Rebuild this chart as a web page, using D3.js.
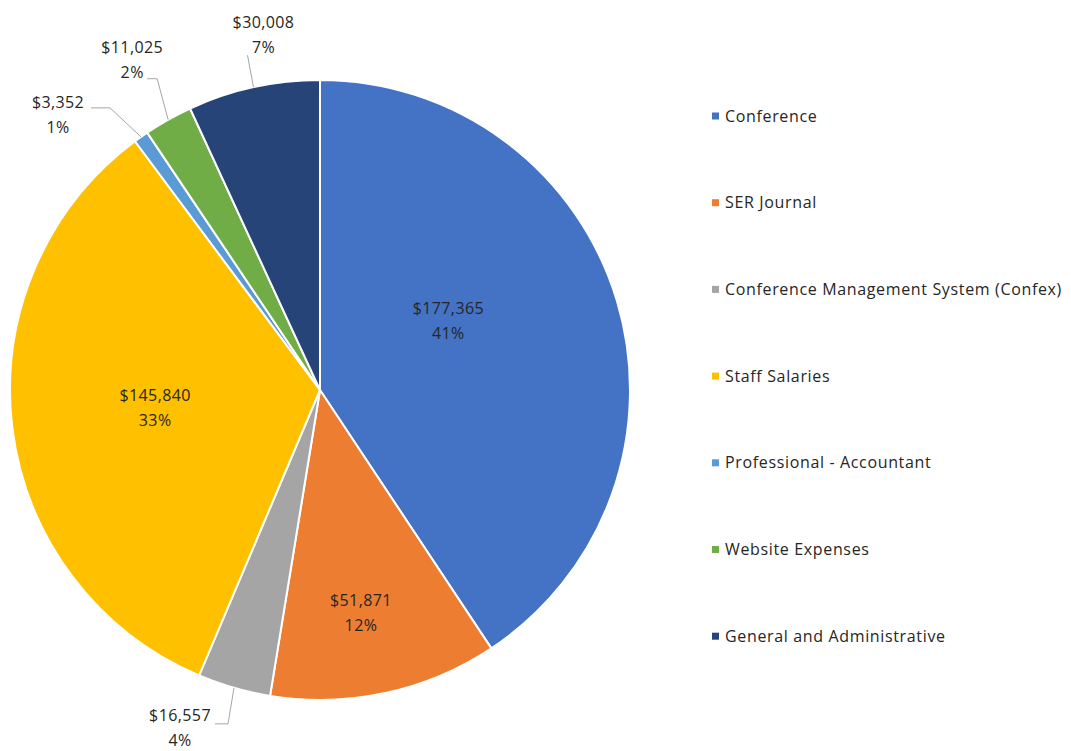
<!DOCTYPE html>
<html lang="en">
<head>
  <meta charset="UTF-8" />
  <title>Expenses</title>
  <style>
    body { margin: 0; background: #fff; font-family: "Open Sans", sans-serif; }
    svg { display: block; }
  </style>
</head>
<body>
  <svg id="chart"></svg>
  <script src="https://d3js.org/d3.v7.min.js"></script>
  <script>
    const categories = [
      "Conference",
      "SER Journal",
      "Conference Management System (Confex)",
      "Staff Salaries",
      "Professional - Accountant",
      "Website Expenses",
      "General and Administrative"
    ];
    const amounts = [177365, 51871, 16557, 145840, 3352, 11025, 30008];
    // percentages as printed on the chart
    const percents = [41, 12, 4, 33, 1, 2, 7];
    const colors = ["#4472C4", "#ED7D31", "#A5A5A5", "#FFC000", "#5B9BD5", "#70AD47", "#264478"];

    const width = 1071, height = 751;
    const cx = 320, cy = 390, radius = 310;

    // label placement: inside labels by polar (angle shift in rad, radius fraction),
    // outside labels by text offset from the slice edge point
    const labelPlacement = [
      { inside: true, da: -0.2, rf: 0.47 },
      { inside: true, da: 0.03, rf: 0.73 },
      { inside: false, tx: -54, ty: 40, elbow: [-6, 36], tail: -13 },
      { inside: true, da: 0.01, rf: 0.535 },
      { inside: false, tx: -83, ty: -22, elbow: [-31, -29], tail: -19 },
      { inside: false, tx: -36, ty: -60, elbow: [-11, -41], tail: -10 },
      { inside: false, tx: 10, ty: -52, elbow: [-6, -32], tail: 0 }
    ];

    const data = categories.map((c, i) => ({
      name: c, value: amounts[i], pct: percents[i], color: colors[i], place: labelPlacement[i]
    }));

    const svg = d3.select("#chart").attr("width", width).attr("height", height);
    const g = svg.append("g").attr("transform", `translate(${cx},${cy})`);

    const pie = d3.pie().sort(null).value(d => d.value);
    const arc = d3.arc().innerRadius(0).outerRadius(radius);
    const arcs = pie(data);

    g.selectAll("path.slice")
      .data(arcs)
      .join("path")
      .attr("class", "slice")
      .attr("d", arc)
      .attr("fill", d => d.data.color)
      .attr("stroke", "#fff")
      .attr("stroke-width", 2)
      .attr("stroke-linejoin", "round");

    const fmt = d3.format("$,");
    const textColor = "#262626";

    arcs.forEach(a => {
      const p = a.data.place;
      const mid = (a.startAngle + a.endAngle) / 2;
      let lx, ly;
      if (p.inside) {
        const ang = mid + p.da, r = radius * p.rf;
        lx = r * Math.sin(ang);
        ly = -r * Math.cos(ang);
      } else {
        const ex = radius * Math.sin(mid), ey = -radius * Math.cos(mid);
        lx = ex + p.tx;
        ly = ey + p.ty;
        const bx = ex + p.elbow[0], by = ey + p.elbow[1];
        g.append("polyline")
          .attr("points", [[ex, ey], [bx, by], [bx + p.tail, by]].map(q => q.join(",")).join(" "))
          .attr("fill", "none")
          .attr("stroke", "#A6A6A6")
          .attr("stroke-width", 1);
      }
      const t = g.append("text")
        .attr("text-anchor", "middle")
        .attr("font-size", "16px")
        .attr("letter-spacing", "0.4px")
        .attr("fill", textColor);
      t.append("tspan").attr("x", lx).attr("y", ly - 7).text(fmt(a.data.value));
      t.append("tspan").attr("x", lx).attr("y", ly + 18).text(a.data.pct + "%");
    });

    const legend = svg.append("g").attr("transform", "translate(712,116)");
    const item = legend.selectAll("g")
      .data(data)
      .join("g")
      .attr("transform", (d, i) => `translate(0,${i * 86.7})`);
    item.append("rect")
      .attr("x", 0).attr("y", -3.5)
      .attr("width", 7).attr("height", 7)
      .attr("fill", d => d.color);
    item.append("text")
      .attr("x", 13)
      .attr("y", 0)
      .attr("dy", "0.35em")
      .attr("font-size", "16px")
      .attr("letter-spacing", "0.65px")
      .attr("fill", textColor)
      .text(d => d.name);
  </script>
</body>
</html>
